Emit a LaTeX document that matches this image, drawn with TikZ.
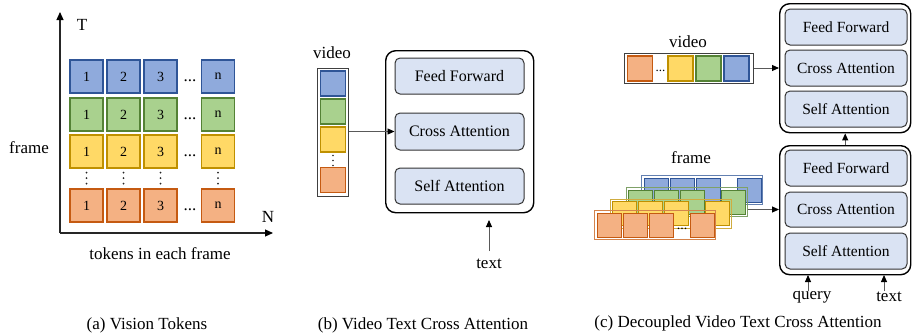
\documentclass[tikz,border=0pt]{standalone}
\usepackage{fontspec}
\setmainfont{Liberation Serif}
\usetikzlibrary{arrows.meta}
\definecolor{bfill}{HTML}{8FAADC}\definecolor{bline}{HTML}{2F5597}
\definecolor{gfill}{HTML}{A9D18E}\definecolor{gline}{HTML}{548235}
\definecolor{yfill}{HTML}{FFD966}\definecolor{yline}{HTML}{BF9000}
\definecolor{ofill}{HTML}{F4B183}\definecolor{oline}{HTML}{C55A11}
\definecolor{blockfill}{HTML}{DAE3F3}
\begin{document}
\begin{tikzpicture}[x=1pt,y=-1pt,
  lbl/.style={font=\fontsize{17}{20}\selectfont, inner sep=0},
  tok/.style={draw=#1line, fill=#1fill, line width=1.1, minimum width=33, minimum height=33,
    inner sep=0, font=\fontsize{14}{14}\selectfont},
  vtile/.style={draw=#1line, fill=#1fill, line width=1.1, minimum width=25, minimum height=25, inner sep=0},
  ftile/.style={draw=#1line, fill=#1fill, line width=1.1, minimum width=24, minimum height=24, inner sep=0},
  layer/.style={draw=#1line!75, line width=1.2, minimum width=121, minimum height=29, inner sep=0},
  hdots/.style={font=\fontsize{17}{17}\selectfont, inner sep=0},
  dotmark/.style={fill=black!85},
  holder/.style={draw=black!75, line width=0.9, fill=white, inner sep=0},
  outer/.style={draw=black, line width=1.4, rounded corners=10, inner sep=0},
  block/.style={draw=black!80, line width=1, fill=blockfill, rounded corners=5, inner sep=0,
    font=\fontsize{16}{18}\selectfont},
  blockc/.style={block, font=\fontsize{15.5}{18}\selectfont, minimum width=122, minimum height=36},
  axis/.style={draw=black!85, line width=1.1, -{Triangle[length=8,width=7,black]}},
  arr/.style={draw=black!65, line width=0.9, -{Triangle[length=7,width=6,black]}}]
\useasboundingbox (0,0) rectangle (912,335);

% ---------- (a) token grid over frames ----------
\coordinate (orig) at (60,233);
\coordinate (ytop) at (60,12);
\coordinate (xend) at (273,233);
\draw[axis] (orig) -- (ytop);
\draw[axis] (orig) -- (xend);
\node[lbl] (tlab) at (82,25) {T};
\node[lbl] (nlab) at (268,217) {N};
\node[lbl] (flab) at (29,148) {frame};
\node[lbl] (xlab) at (160,254) {tokens in each frame};
\foreach \r/\y/\c in {1/76.5/b,2/114.5/g,3/151.5/y,4/205.5/o}{
  \foreach \k/\x/\t in {1/86.5/1,2/123.5/2,3/160.5/3,4/218/n}
    \node[tok=\c] (t\r\k) at (\x,\y) {\t};
  \node[hdots] (hd\r) at (190,\y+4) {...};
}
% vertical ellipsis between the third and last frame
\foreach \x in {86.5,123.5,160.5,218}
  \fill[dotmark] (\x,172.5) circle (1) (\x,178) circle (1) (\x,183.5) circle (1);
\node[lbl] (capa) at (147,325) {(a) Vision Tokens};

% ---------- (b) video text cross attention ----------
\node[lbl] (vlab) at (332,53) {video};
\node[holder, minimum width=31, minimum height=128, anchor=north west] (vcol) at (317,68) {};
\foreach \y/\c [count=\i] in {83.5/b,111.5/g,139.5/y,180/o}
  \node[vtile=\c] (vt\i) at (333,\y) {};
\fill[dotmark] (333,155.5) circle (0.9) (333,160.5) circle (0.9) (333,165.5) circle (0.9);
\node[outer, minimum width=148, minimum height=162, anchor=north west] (bout) at (385,50) {};
\node[block, minimum width=129, minimum height=36] (bff) at (459.5,76) {Feed Forward};
\node[block, minimum width=129, minimum height=37] (bca) at (459.5,131.5) {Cross Attention};
\node[block, minimum width=129, minimum height=36] (bsa) at (459.5,186) {Self Attention};
\draw[arr] (vcol.east |- bca.west) -- (bca.west);
\node[lbl] (btext) at (489,264) {text};
\coordinate (btxtop) at (489,251);
\coordinate (btxtip) at (489,220);
\draw[arr] (btxtop) -- (btxtip);
\node[lbl] (capb) at (423,325) {(b) Video Text Cross Attention};

% ---------- (c) decoupled video text cross attention ----------
% upper block: video stream
\node[outer, minimum width=131, minimum height=129, anchor=north west] (cup) at (779,3) {};
\node[blockc] (cff1) at (846,27) {Feed Forward};
\node[blockc] (cca1) at (846,68) {Cross Attention};
\node[blockc] (csa1) at (846,109) {Self Attention};
% lower block: frame stream
\node[outer, minimum width=131, minimum height=129, anchor=north west] (clow) at (779,145) {};
\node[blockc] (cff2) at (846,168) {Feed Forward};
\node[blockc, minimum height=35] (cca2) at (846,209.5) {Cross Attention};
\node[blockc] (csa2) at (846,251) {Self Attention};
\draw[arr] (clow.north) -- (cup.south);

% video token row
\node[lbl] (cvlab) at (688,42) {video};
\node[holder, minimum width=129, minimum height=30, anchor=north west] (vrow) at (624,53) {};
\node[vtile=o] (vr1) at (640,68.5) {};
\node[hdots, font=\fontsize{13}{13}\selectfont] (vrd) at (660.5,71) {...};
\node[vtile=y] (vr2) at (680.5,68.5) {};
\node[vtile=g] (vr3) at (708.5,68.5) {};
\node[vtile=b] (vr4) at (736.5,68.5) {};
\draw[arr] (vrow.east |- cca1.west) -- (cca1.west -| cup.west);

% stacked frame layers
\node[lbl] (cflab) at (691,158) {frame};
\foreach \c/\L/\T [count=\i] in {b/641/175, g/625.5/187, y/609.5/198.5, o/594/210}{
  \node[layer=\c, anchor=north west] (fl\i) at (\L,\T) {};
  \foreach \dx [count=\j] in {2.5,28.5,54.5,95.5}
    \node[ftile=\c, anchor=north west] (ft\i\j) at (\L+\dx,\T+2.5) {};
}
\node[hdots, font=\fontsize{14}{14}\selectfont] (fd) at (682,229) {...};
\draw[arr] (fl2.east |- cca2.west) -- (cca2.west -| clow.west);

% inputs of the lower block
\node[lbl] (qlab) at (812,297) {query};
\node[lbl] (ctext) at (889,297) {text};
\coordinate (qtail) at (808,291);
\coordinate (qtip) at (808,275);
\coordinate (ttail) at (884,291);
\coordinate (ttip) at (884,275);
\draw[arr] (qtail) -- (qtip);
\draw[arr] (ttail) -- (ttip);
\node[lbl] (capc) at (738,323) {(c) Decoupled Video Text Cross Attention};
\end{tikzpicture}
\end{document}
